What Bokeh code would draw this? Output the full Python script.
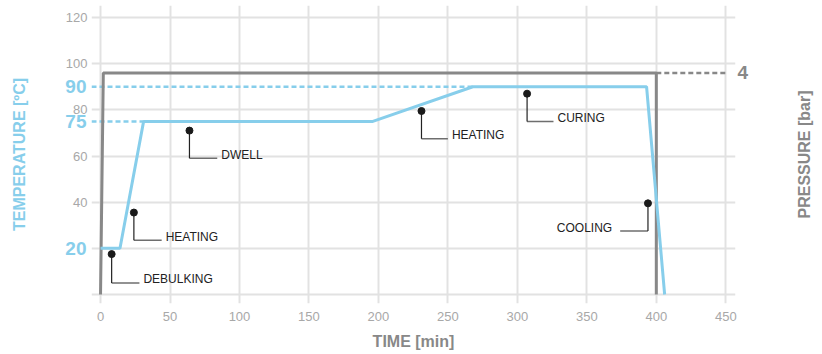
import math
from bokeh.plotting import figure
from bokeh.layouts import row
from bokeh.models import Range1d, LinearAxis, FixedTicker, ColumnDataSource
from bokeh.core.properties import value
from bokeh.embed import file_html
from bokeh.resources import INLINE

# ---- data ----
time_ticks = [0, 50, 100, 150, 200, 250, 300, 350, 400, 450]
temp_ticks = [0, 20, 40, 60, 80, 100, 120]
temp_highlight = [20, 75, 90]

time_temp = [0, 14, 31, 196, 268, 393, 406]
temp = [20, 20, 75, 75, 90, 90, 0]

time_press = [0, 2, 400, 400]
press = [0, 4, 4, 0]
press_setpoint = 4
press_setpoint_end = 450

setpoints = [75, 90]
setpoint_end = [31, 268]

ann_labels = ["DEBULKING", "HEATING", "DWELL", "HEATING", "CURING", "COOLING"]
ann_x = [8, 24, 64, 231, 307, 394]
ann_y = [17.5, 35.5, 71, 79.5, 87, 39.5]
ann_elbow_y = [5, 23.5, 59, 67.5, 75, 27.5]
ann_end_x = [28, 44, 84, 250, 326, 374]

BLUE = "#87ceeb"
GRAY = "#888888"
FONT = "Liberation Sans"

x0, x1 = -6.5, 457
y0, y1 = -3.9, 125.2
pscale = 24.0

p = figure(width=790, height=354, output_backend="svg", toolbar_location=None,
           x_range=Range1d(x0, x1), y_range=Range1d(y0, y1),
           min_border_left=91, min_border_right=55, min_border_top=5, min_border_bottom=51)
p.outline_line_color = None
p.background_fill_color = "white"
p.extra_y_ranges = {"press": Range1d(y0 / pscale, y1 / pscale)}


def clean(ax):
    ax.axis_line_color = None
    ax.major_tick_line_color = None
    ax.minor_tick_line_color = None
    ax.major_tick_out = 0
    ax.major_tick_in = 0
    ax.major_label_text_font = FONT
    ax.axis_label_text_font = FONT
    ax.axis_label_text_font_style = "bold"
    ax.axis_label_text_font_size = "16px"


# bottom axis
xa = p.xaxis[0]
xa.ticker = FixedTicker(ticks=time_ticks)
clean(xa)
xa.major_label_text_font_size = "13px"
xa.major_label_text_color = "#a8a8a8"
xa.major_label_standoff = 8
xa.axis_label = "TIME [min]"
xa.axis_label_text_color = GRAY
xa.axis_label_standoff = 9

# left axis (plain gray ticks)
ya = p.yaxis[0]
ya.ticker = FixedTicker(ticks=temp_ticks)
ya.major_label_overrides = {0: "", 20: ""}
clean(ya)
ya.major_label_text_font_size = "13px"
ya.major_label_text_color = "#a8a8a8"
ya.major_label_standoff = 4

# second left axis (highlighted blue ticks), pulled back over the first one
yb = LinearAxis(ticker=FixedTicker(ticks=temp_highlight))
clean(yb)
yb.major_label_text_font_size = "19px"
yb.major_label_text_font_style = "bold"
yb.major_label_text_color = BLUE
yb.major_label_standoff = -24
yb.axis_label = "TEMPERATURE [ºC]"
yb.axis_label_text_color = BLUE
yb.axis_label_standoff = 34
p.add_layout(yb, "left")

# right axis (pressure)
ra = LinearAxis(y_range_name="press", ticker=FixedTicker(ticks=[press_setpoint]))
clean(ra)
ra.major_label_standoff = 2
ra.major_label_text_font_style = "bold"
ra.major_label_text_font_size = "19px"
ra.major_label_text_color = GRAY
p.add_layout(ra, "right")

p.grid.grid_line_color = "#e2e2e2"
p.grid.grid_line_width = 2

# setpoint dashed lines
p.segment(x0=[x0] * len(setpoints), y0=setpoints, x1=setpoint_end, y1=setpoints,
          line_color=BLUE, line_width=2.5, line_dash="5 3")
p.segment(x0=[time_press[2]], y0=[press_setpoint], x1=[press_setpoint_end], y1=[press_setpoint],
          y_range_name="press", line_color=GRAY, line_width=2.5, line_dash="5 3")

# curves
p.line(time_press, press, y_range_name="press", line_color=GRAY, line_width=3)
p.line(time_temp, temp, line_color=BLUE, line_width=3)

# annotations
src = ColumnDataSource(dict(x=ann_x, y=ann_y, ey=ann_elbow_y, ex=ann_end_x, label=ann_labels))
p.segment(x0="ex", y0="ey", x1="x", y1="ey", source=src, line_color="#6e6e6e", line_width=1.5)
p.segment(x0="x", y0="y", x1="x", y1="ey", source=src, line_color="#222222", line_width=1.2)
p.scatter("x", "y", source=src, size=7, color="#1a1a1a")

left_idx = [i for i in range(len(ann_labels)) if ann_end_x[i] > ann_x[i]]
right_idx = [i for i in range(len(ann_labels)) if ann_end_x[i] < ann_x[i]]
p.text(x=[ann_end_x[i] for i in left_idx], y=[ann_elbow_y[i] for i in left_idx],
       text=[ann_labels[i] for i in left_idx], x_offset=4, y_offset=-3.5,
       text_align="left", text_baseline="middle", text_font=value(FONT),
       text_font_size="12px", text_color="#222222")
p.text(x=[ann_end_x[i] for i in right_idx], y=[ann_elbow_y[i] for i in right_idx],
       text=[ann_labels[i] for i in right_idx], x_offset=-8, y_offset=-3.5,
       text_align="right", text_baseline="middle", text_font=value(FONT),
       text_font_size="12px", text_color="#222222")

# narrow side panel carrying the pressure axis title
p2 = figure(width=32, height=354, output_backend="svg", toolbar_location=None,
            x_range=Range1d(0, 32), y_range=Range1d(y0, y1),
            x_axis_location=None, y_axis_location=None,
            min_border_left=0, min_border_right=0, min_border_top=5, min_border_bottom=51)
p2.outline_line_color = None
p2.grid.visible = False
p2.text(x=[14], y=[(y0 + y1) / 2], text=["PRESSURE [bar]"], angle=math.pi / 2,
        text_align="center", text_baseline="middle", text_font=value(FONT),
        text_font_size="16px", text_font_style="bold", text_color=GRAY)

open("out.html", "w").write(file_html(row(p, p2), INLINE))
